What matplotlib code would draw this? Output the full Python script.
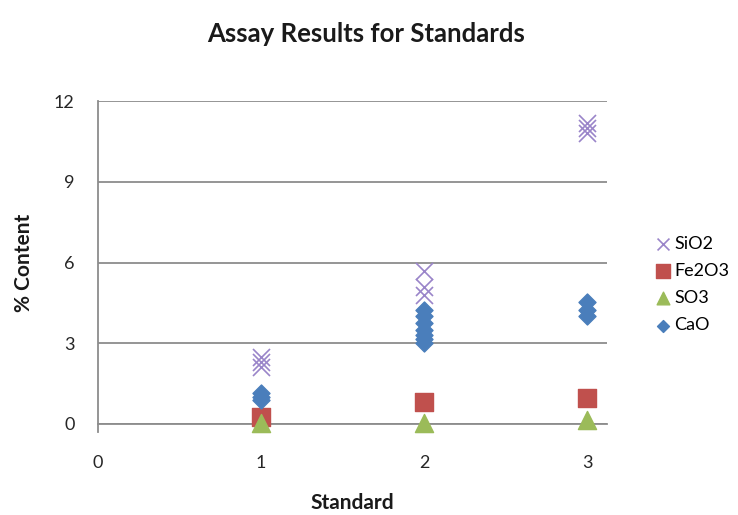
import matplotlib.pyplot as plt

plt.rcParams['font.family'] = ['Lato', 'DejaVu Sans']

# assay values, per standard
sio2_x = [1, 1, 1, 2, 2, 2, 3, 3, 3]
sio2_y = [2.5, 2.3, 2.1, 5.7, 5.1, 4.8, 11.2, 11.0, 10.8]

fe2o3_x = [1, 2, 3]
fe2o3_y = [0.25, 0.82, 0.97]

so3_x = [1, 2, 3]
so3_y = [0.05, 0.05, 0.15]

cao_x = [1, 1, 1, 2, 2, 2, 2, 2, 2, 2, 3, 3, 3]
cao_y = [1.15, 1.0, 0.9, 4.25, 4.0, 3.75, 3.5, 3.3, 3.15, 3.0, 4.55, 4.25, 4.0]

y_ticks = [0, 3, 6, 9, 12]
x_ticks = [0, 1, 2, 3]

grey = '#8C8C8C'

fig = plt.figure(figsize=(7.38, 5.15), dpi=100)
ax = fig.add_axes([0.1328, 0.1767, 0.6897, 0.627])

ax.scatter(sio2_x, sio2_y, marker='x', s=150, color='#9A85C9', linewidths=1.2,
           label='SiO2', zorder=3, clip_on=False)
ax.scatter(fe2o3_x, fe2o3_y, marker='s', s=180, color='#C0504D',
           label='Fe2O3', zorder=3, clip_on=False)
ax.scatter(so3_x, so3_y, marker='^', s=170, color='#9BBB59',
           label='SO3', zorder=3, clip_on=False)
ax.scatter(cao_x, cao_y, marker='D', s=75, color='#4A7EBB',
           label='CaO', zorder=4, clip_on=False)

ax.set_xlim(0, 3.12)
ax.set_ylim(0, 12)
ax.set_yticks(y_ticks)
ax.set_xticks(x_ticks)
ax.yaxis.grid(True, color=grey, linewidth=1.3)
ax.set_axisbelow(True)

for side in ['top', 'right']:
    ax.spines[side].set_visible(False)
for side in ['left', 'bottom']:
    ax.spines[side].set_color(grey)
    ax.spines[side].set_linewidth(1.3)
ax.spines['left'].set_bounds(-0.3, 12)
ax.tick_params(axis='y', length=0, labelsize=13, pad=17, labelcolor='#262626')
ax.tick_params(axis='x', length=0, labelsize=13, pad=22, labelcolor='#262626')

fig.suptitle('Assay Results for Standards', x=0.496, y=0.934, va='center',
             fontsize=18.5, fontweight='bold', color='#1a1a1a')
ax.set_xlabel('Standard', fontsize=15, fontweight='bold', color='#1a1a1a')
ax.xaxis.set_label_coords(0.5, -0.215)
ax.set_ylabel('% Content', fontsize=15, fontweight='bold', color='#1a1a1a')
ax.yaxis.set_label_coords(-0.126, 0.5)

ax.legend(loc='center left', bbox_to_anchor=(0.8875, 0.4476),
          bbox_transform=fig.transFigure, frameon=False, fontsize=13,
          handletextpad=0.15, labelspacing=0.62, handlelength=0.9,
          borderpad=0, borderaxespad=0, markerscale=0.7)

fig.savefig('out.png', dpi=100)
